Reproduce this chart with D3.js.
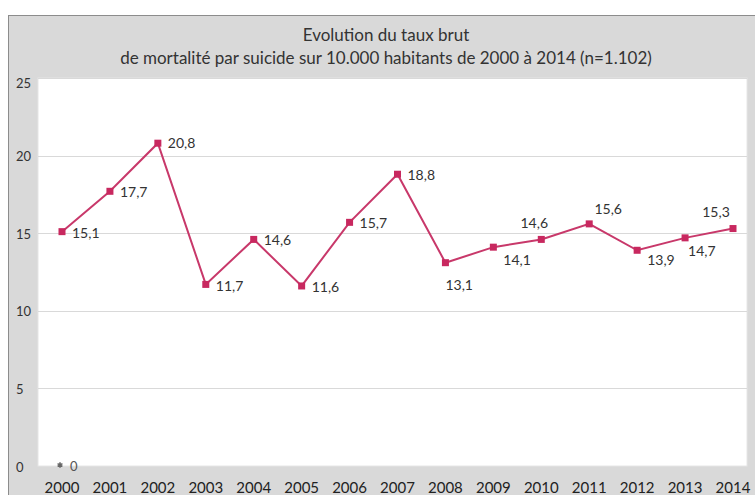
<!DOCTYPE html>
<html><head><meta charset="utf-8">
<script src="https://cdn.jsdelivr.net/npm/d3@7"></script>
<style>html,body{margin:0;padding:0;background:#fff;overflow:hidden}svg{display:block}text{font-family:Lato,"Open Sans",sans-serif}</style>
</head><body>
<svg id="c" width="755" height="495"></svg>
<script>
const years = ["2000","2001","2002","2003","2004","2005","2006","2007","2008","2009","2010","2011","2012","2013","2014"];
const rates = [15.1,17.7,20.8,11.7,14.6,11.6,15.7,18.8,13.1,14.1,14.6,15.6,13.9,14.7,15.3];
const rateLabels = ["15,1","17,7","20,8","11,7","14,6","11,6","15,7","18,8","13,1","14,1","14,6","15,6","13,9","14,7","15,3"];
const zeroYears = ["2000"];
const zeroValues = [0];
const yTicks = [0,5,10,15,20,25];
const titleLines = ["Evolution du taux brut","de mortalité par suicide sur 10.000 habitants de 2000 à 2014 (n=1.102)"];

// label placement (dx, dy, anchor) — styling only
const place = [
 [10,1,"start"],[10,1,"start"],[10,0,"start"],[10,2,"start"],[10,1,"start"],[10,1,"start"],[10,1,"start"],[10,1,"start"],
 [0,22,"start"],[10,13,"start"],[-7,-16,"middle"],[19,-15,"middle"],[10,10,"start"],[3,13,"start"],[-17,-16,"middle"]
];

const svg = d3.select("#c");
const W=755,H=495;
const plot={x:38,y:78,w:709,h:388};

svg.append("rect").attr("x",8.5).attr("y",15.5).attr("width",W).attr("height",H)
  .attr("fill","#d9d9d9").attr("stroke","#8c8c8c");

svg.append("rect").attr("x",plot.x).attr("y",plot.y).attr("width",plot.w).attr("height",plot.h)
  .attr("fill","#ffffff").attr("stroke","#e6e6e6");

const x = d3.scalePoint().domain(years).range([62,733]);
const y = d3.scaleLinear().domain([0,25]).range([plot.y+plot.h, plot.y]);

// gridlines
svg.append("g").selectAll("line").data(yTicks.filter(t=>t>0)).join("line")
  .attr("x1",plot.x).attr("x2",plot.x+plot.w)
  .attr("y1",d=>Math.round(y(d))+0.5).attr("y2",d=>Math.round(y(d))+0.5)
  .attr("stroke","#d9d9d9").attr("stroke-width",1);

// y labels
svg.append("g").selectAll("text").data(yTicks).join("text")
  .attr("x",16).attr("y",d=>y(d)+ (d===25?5:1)).attr("dy","0.35em")
  .attr("font-size",13).attr("fill","#333").text(d=>d);

// x labels
svg.append("g").selectAll("text").data(years).join("text")
  .attr("x",d=>x(d)).attr("y",493).attr("text-anchor","middle")
  .attr("font-size",15).attr("fill","#222").text(d=>d);

// title
svg.append("g").selectAll("text").data(titleLines).join("text")
  .attr("x",386).attr("y",(d,i)=>41+i*23).attr("text-anchor","middle")
  .attr("font-size",17).attr("fill","#333").text(d=>d);

// line
const pts = years.map((yr,i)=>({yr,v:rates[i],lab:rateLabels[i],p:place[i]}));
svg.append("path").datum(pts)
  .attr("d",d3.line().x(d=>x(d.yr)).y(d=>y(d.v)))
  .attr("fill","none").attr("stroke","#c8386a").attr("stroke-width",2);

svg.append("g").selectAll("rect").data(pts).join("rect")
  .attr("x",d=>x(d.yr)-3.5).attr("y",d=>y(d.v)-3.5).attr("width",7).attr("height",7)
  .attr("fill","#c8285f");

svg.append("g").selectAll("text").data(pts).join("text")
  .attr("x",d=>x(d.yr)+d.p[0]).attr("y",d=>y(d.v)+d.p[1]).attr("dy","0.35em")
  .attr("text-anchor",d=>d.p[2])
  .attr("font-size",14).attr("fill","#333").text(d=>d.lab);

// zero series
const zpts = zeroYears.map((yr,i)=>({yr,v:zeroValues[i]}));
svg.append("g").selectAll("path").data(zpts).join("path")
  .attr("transform",d=>`translate(${x(d.yr)-2},${y(d.v)-1})`)
  .attr("d",d3.symbol(d3.symbolAsterisk,22))
  .attr("stroke","#666").attr("stroke-width",1.5).attr("fill","#666");
svg.append("g").selectAll("text").data(zpts).join("text")
  .attr("x",d=>x(d.yr)+8).attr("y",d=>y(d.v)).attr("dy","0.35em")
  .attr("font-size",13).attr("fill","#555").text(d=>d.v);
</script>
</body></html>
